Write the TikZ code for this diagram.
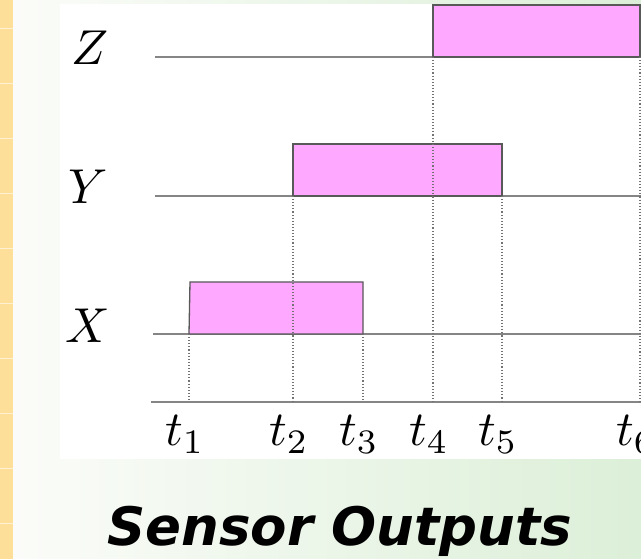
\documentclass[tikz,border=0pt]{standalone}
\usepackage{fontspec}
\newfontfamily\titlefont{DejaVu Sans}
\usetikzlibrary{calc}
\definecolor{pulsepink}{HTML}{FFA8FF}
\definecolor{stripyellow}{HTML}{FDDF9A}
\definecolor{bgleft}{HTML}{FBFCF9}
\definecolor{bgright}{HTML}{DCEFD8}
\definecolor{siggray}{HTML}{858585}

\begin{document}
\begin{tikzpicture}[x=1pt,y=-1pt,
  signal/.style={draw=siggray,line width=1.3pt},
  pulse/.style={fill=pulsepink,draw=black!65,line width=1.3pt},
  timeline/.style={draw=black!55,dotted,line width=1.1pt},
  lab/.style={scale=4.9,anchor=base,inner sep=0pt}]
\useasboundingbox (0,0) rectangle (641,559);
\clip (0,0) rectangle (641,559);
% slide background
\shade[left color=bgleft,right color=bgright] (13,0) rectangle (641,559);
\fill[stripyellow] (0,0) rectangle (13,559);
\foreach \y in {28,83,...,523} \draw[white!55!stripyellow,line width=0.8pt] (0,\y)--(13,\y);
\fill[white] (60,4) rectangle (641,459);
% signal lines
\coordinate (zs) at (155,57);
\coordinate (ys) at (155,196);
\coordinate (xs) at (153,334);
\coordinate (axs) at (151,402);
\foreach \n/\x in {1/189,2/293,3/363,4/433,5/502,6/640} \coordinate (t\n) at (\x,402);
\draw[signal] (zs)--(641,57);
\draw[signal] (ys)--(641,196);
\draw[signal] (xs)--(641,334);
\draw[signal] (axs)--(641,402);
% pulses
\draw[pulse] (t1 |- xs)--(190,282)--(363,282)--(t3 |- xs)--cycle;
\draw[pulse] (t2 |- ys)--(293,144)--(502,144)--(t5 |- ys)--cycle;
\draw[pulse] (t4 |- zs)--(433,5)--(640,5)--(t6 |- zs)--cycle;
% event times
\draw[timeline] (t1 |- xs)--(t1);
\draw[timeline] (t2 |- ys)--(t2);
\draw[timeline] (t3 |- xs)--(t3);
\draw[timeline] (t4 |- zs)--(t4);
\draw[timeline] (t5 |- ys)--(t5);
\draw[timeline] (t6 |- zs)--(t6);
\node[lab] (zlab) at (90,65) {$Z$};
\node[lab] (ylab) at (88,204) {$Y$};
\node[lab] (xlab) at (88,342) {$X$};
\foreach \n in {1,...,6} \node[lab] (tl\n) at ($(t\n)+(-4,44)$) {$t_\n$};
\node[font=\titlefont\bfseries\itshape\fontsize{53}{60}\selectfont,anchor=base,inner sep=0pt] (title) at (340,545) {Sensor Outputs};
\end{tikzpicture}
\end{document}
